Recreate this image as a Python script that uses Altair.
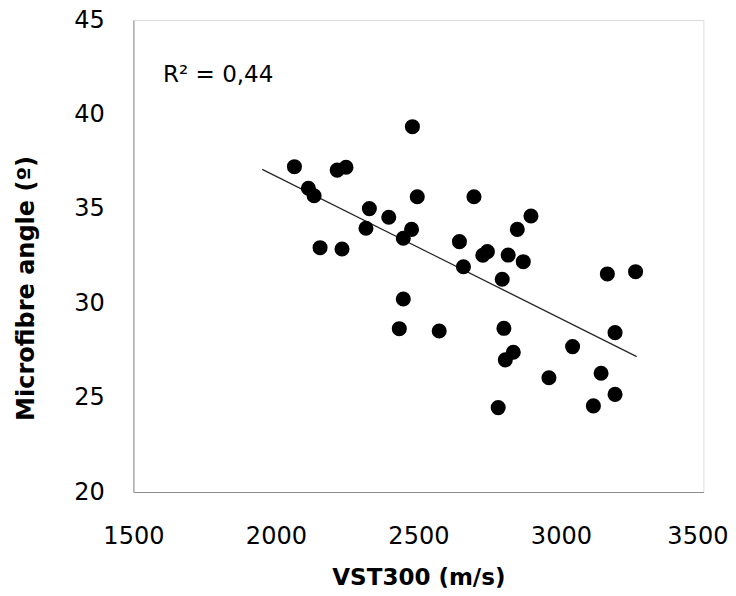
import altair as alt
import pandas as pd

vst300 = [2065, 2114, 2134, 2155, 2215, 2246, 2232, 2328, 2316, 2396,
          2447, 2476, 2479, 2496, 2447, 2433, 2573, 2695, 2644, 2658,
          2726, 2742, 2815, 2868, 2847, 2895, 2794, 2800, 2833, 2805,
          2780, 2958, 3041, 3141, 3114, 3190, 3190, 3163, 3262]
mfa = [37.23, 36.09, 35.69, 32.94, 37.05, 37.20, 32.87, 35.01, 33.97, 34.55,
       33.44, 33.91, 39.35, 35.64, 30.22, 28.65, 28.53, 35.64, 33.26, 31.93,
       32.54, 32.73, 32.55, 32.20, 33.91, 34.62, 31.27, 28.67, 27.40, 27.00,
       24.47, 26.05, 27.70, 26.29, 24.56, 25.17, 28.44, 31.55, 31.67]

trend_x = [1952, 3266]
trend_y = [37.09, 27.17]

label_text = ["R² = 0,44"]
label_x = [1604]
label_y = [41.73]

x_ticks = [1500, 2000, 2500, 3000, 3500]
y_ticks = [20, 25, 30, 35, 40, 45]

pts = pd.DataFrame({"x": vst300, "y": mfa})
trend = pd.DataFrame({"x": trend_x, "y": trend_y})
ann = pd.DataFrame({"x": label_x, "y": label_y, "t": label_text})

FONT = "DejaVu Sans"

xs = alt.Scale(domain=[1500, 3500], nice=False, zero=False)
ys = alt.Scale(domain=[20, 45], nice=False, zero=False)

xax = alt.Axis(values=x_ticks, format="d", title="VST300 (m/s)", grid=False, ticks=False,
               domainColor="#8c8c8c", labelFont=FONT, labelFontSize=24,
               labelColor="#000000", labelPadding=32, labelFlush=False,
               labelOffset={"condition": {"test": "datum.value >= 3500", "value": -6}, "value": 0},
               labelOverlap=False, labelBound=False, titleFont=FONT, titleFontSize=23,
               titleFontWeight="bold", titleColor="#000000",
               titleBaseline="alphabetic", titleY=92)
yax = alt.Axis(values=y_ticks, format="d", title="Microfibre angle (º)", grid=False, ticks=False,
               domainColor="#8c8c8c", labelFont=FONT, labelFontSize=24,
               labelColor="#000000", labelPadding=29, labelFlush=False,
               labelOverlap=False, labelBound=False, titleFont=FONT, titleFontSize=24,
               titleFontWeight="bold", titleColor="#000000",
               titleBaseline="alphabetic", titleX=-100, titleY=268)

points = alt.Chart(pts).mark_circle(size=227, color="#000000", opacity=1).encode(
    x=alt.X("x:Q", scale=xs, axis=xax),
    y=alt.Y("y:Q", scale=ys, axis=yax),
)

line = alt.Chart(trend).mark_line(color="#262626", strokeWidth=1.2).encode(
    x=alt.X("x:Q", scale=xs),
    y=alt.Y("y:Q", scale=ys),
)

text = alt.Chart(ann).mark_text(font=FONT, fontSize=23, align="left",
                                baseline="alphabetic", color="#000000").encode(
    x=alt.X("x:Q", scale=xs),
    y=alt.Y("y:Q", scale=ys),
    text="t:N",
)

# total svg width kept at 720 px so the page body (736 - 2*8) does not shrink it
chart = (line + points + text).properties(
    width=570, height=472,
    autosize=alt.AutoSizeParams(type="none"),
    padding={"left": 125.4, "top": 12, "right": 24.6, "bottom": 96},
).configure_view(stroke="#404040", strokeWidth=1).configure(background="white")

chart.save("out.html", embed_options={"renderer": "svg", "actions": False})
